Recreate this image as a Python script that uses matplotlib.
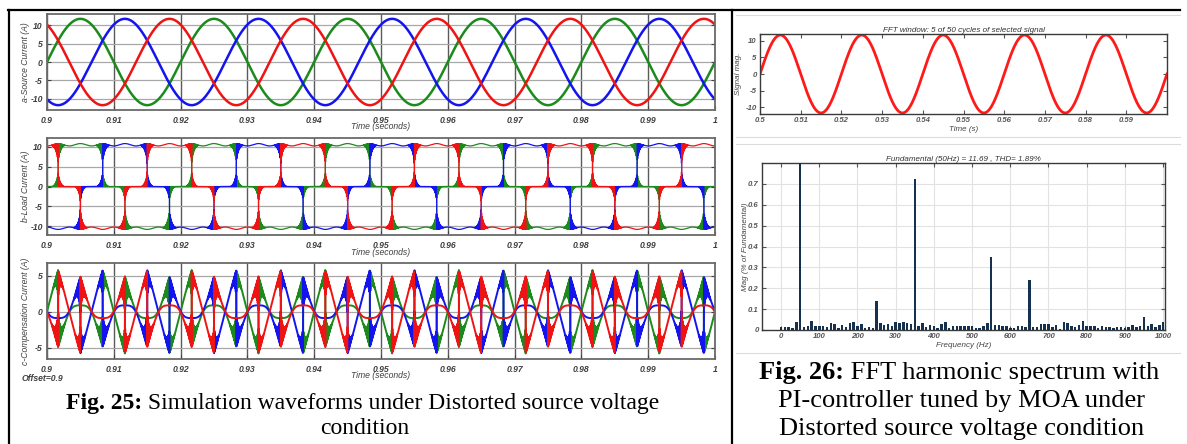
import numpy as np
import matplotlib.pyplot as plt
from matplotlib.transforms import Bbox, TransformedBbox

plt.rcParams['font.family'] = ['Liberation Sans', 'DejaVu Sans']
plt.rcParams['font.weight'] = 'bold'
plt.rcParams['font.style'] = 'italic'
plt.rcParams['axes.unicode_minus'] = False

# ---- system data ----
F0 = 50.0                 # supply frequency (Hz)
T0 = 0.9                  # scope offset (s)
AMP_SRC = 11.69           # source current peak (A)
I_LOAD = 10.5             # rectifier dc-side current (A)
phase_deg = [0, -120, 120]
phase_col = ['#1c8a1c', '#1414ee', '#ee1414']

time_ticks = [0.9, 0.91, 0.92, 0.93, 0.94, 0.95, 0.96, 0.97, 0.98, 0.99, 1.0]
time_labels = ['0.9', '0.91', '0.92', '0.93', '0.94', '0.95', '0.96', '0.97', '0.98', '0.99', '1']

# FFT window (5 cycles starting at 0.5 s)
fft_t0, fft_t1 = 0.5, 0.6
fft_ticks = [0.5, 0.51, 0.52, 0.53, 0.54, 0.55, 0.56, 0.57, 0.58, 0.59]

# harmonic spectrum, % of fundamental, 10 Hz bins 0..1000 Hz
freqs = np.arange(0, 1001, 10)
mags = [0.013, 0.013, 0.013, 0.008, 0.04, 100, 0.013, 0.02, 0.045, 0.02,
        0.02, 0.02, 0.012, 0.035, 0.03, 0.01, 0.025, 0.015, 0.035, 0.04,
        0.02, 0.03, 0.01, 0.015, 0.01, 0.14, 0.035, 0.025, 0.03, 0.02,
        0.04, 0.035, 0.04, 0.035, 0.03, 0.725, 0.02, 0.035, 0.015, 0.025,
        0.02, 0.01, 0.03, 0.04, 0.01, 0.02, 0.02, 0.02, 0.02, 0.02,
        0.02, 0.01, 0.008, 0.02, 0.035, 0.35, 0.025, 0.025, 0.02, 0.02,
        0.01, 0.008, 0.02, 0.02, 0.015, 0.24, 0.015, 0.015, 0.03, 0.03,
        0.03, 0.015, 0.025, 0.005, 0.04, 0.035, 0.02, 0.015, 0.025, 0.045,
        0.02, 0.02, 0.02, 0.01, 0.02, 0.015, 0.012, 0.01, 0.015, 0.012,
        0.01, 0.015, 0.025, 0.015, 0.02, 0.06, 0.02, 0.03, 0.015, 0.025,
        0.04]
fund_label = 'Fundamental (50Hz) = 11.69 , THD= 1.89%'

W, H = 1187, 444
fig = plt.figure(figsize=(W / 100, H / 100), dpi=100)

# background layer in pixel units for frame and captions
bg = fig.add_axes([0, 0, 1, 1])
bg.set_xlim(0, W)
bg.set_ylim(H, 0)
bg.axis('off')
bg.plot([8, 1180], [10, 10], color='black', lw=1.6)
bg.plot([8.5, 8.5], [10, H], color='black', lw=1.6)
bg.plot([732, 732], [10, H], color='black', lw=1.6)
for yy in [15, 137, 144, 353]:
    bg.plot([736, 1180], [yy, yy], color='#dcdcdc', lw=0.8)


def px_axes(x0, y0, x1, y1):
    return fig.add_axes([x0 / W, 1 - y1 / H, (x1 - x0) / W, (y1 - y0) / H])


def corner(d, rx, ry):
    # depth of a rounded corner at distance d (deg) from a step
    u = np.clip(1 - d / rx, 0, 1)
    return ry * (1 - np.sqrt(1 - u ** 2))


t = np.linspace(T0, T0 + 0.1, 100001)


def source_current(ph):
    return AMP_SRC * np.sin(np.radians(360 * F0 * (t - T0) + ph))


def load_current(ph):
    psi = (360 * F0 * (t - T0) + ph - 30) % 360
    rip = 0.3 * np.cos(np.radians(6 * psi))
    rx, ry, rxz, ryz = 22, 6.0, 18, 4.5
    S = np.zeros_like(t)
    off = np.zeros_like(t)
    pos = psi < 120
    S[pos] = I_LOAD + rip[pos]
    off[pos] = -(corner(psi[pos], rx, ry) + corner(120 - psi[pos], rx, ry))
    z1 = (psi >= 120) & (psi < 180)
    off[z1] = corner(psi[z1] - 120, rxz, ryz) - corner(180 - psi[z1], rxz, ryz)
    neg = (psi >= 180) & (psi < 300)
    S[neg] = -I_LOAD - rip[neg]
    off[neg] = corner(psi[neg] - 180, rx, ry) + corner(300 - psi[neg], rx, ry)
    z2 = psi >= 300
    off[z2] = -corner(psi[z2] - 300, rxz, ryz) + corner(360 - psi[z2], rxz, ryz)
    # switching ripple fills the band between the step and the rounded path
    return S + off * 0.5 * (1 + np.sin(2 * np.pi * 12500 * (t - T0)))


def scope_style(ax, ylim, yticks, ylabel):
    ax.set_xlim(0.9, 1.0)
    ax.set_ylim(*ylim)
    ax.set_xticks(time_ticks)
    ax.set_xticklabels(time_labels)
    ax.set_yticks(yticks)
    ax.set_yticklabels([str(v) for v in yticks])
    ax.grid(axis='x', color='#5a5a5a', lw=1.0)
    ax.grid(axis='y', color='#a8a8a8', lw=0.9)
    ax.set_axisbelow(True)
    ax.tick_params(direction='in', length=3, right=True, labelsize=6.2,
                   colors='#404040', pad=4)
    ax.tick_params(axis='y', pad=3)
    for s in ax.spines.values():
        s.set_color('#6a6a6a')
        s.set_linewidth(1.3)
    ax.set_xlabel('Time (seconds)', fontsize=6.2, color='#404040')
    ax.xaxis.set_label_coords(0.5, -0.13)
    ax.set_ylabel(ylabel, fontsize=6.2, color='#404040')
    ax.yaxis.set_label_coords(-0.025, 0.5)


# a) source currents
ax_a = px_axes(47, 14, 715, 110)
for ph, c in zip(phase_deg, phase_col):
    ax_a.plot(t, source_current(ph), color=c, lw=1.8)
scope_style(ax_a, (-13, 13), [10, 5, 0, -5, -10], 'a-Source Current (A)')

# b) load currents
ax_b = px_axes(47, 138, 715, 235)
load = []
for ph, c in zip(phase_deg, phase_col):
    il = load_current(ph)
    load.append(il)
    ax_b.plot(t, il, color=c, lw=0.9)
scope_style(ax_b, (-12.2, 12.2), [10, 5, 0, -5, -10], 'b-Load Current (A)')

# c) compensation currents = source - load
ax_c = px_axes(47, 263, 715, 359)
for ph, c, il in zip(phase_deg, phase_col, load):
    ax_c.plot(t, source_current(ph) - il, color=c, lw=1.4)
scope_style(ax_c, (-6.6, 6.8), [5, 0, -5], 'c-Compensation Current (A)')
ax_c.yaxis.label.set_clip_box(TransformedBbox(Bbox.from_extents(0, 0, 1, (H - 258) / H),
                                              fig.transFigure))
ax_c.yaxis.label.set_clip_on(True)
bg.text(22, 378, 'Offset=0.9', fontsize=6.2, color='#404040', va='center')

# FFT window signal
ax_r1 = px_axes(760, 34, 1167, 114)
tf = np.linspace(fft_t0, fft_t1, 3001)
ax_r1.plot(tf, AMP_SRC * np.sin(2 * np.pi * F0 * (tf - fft_t0)), color='#ff1a1a', lw=2.0)
ax_r1.set_xlim(fft_t0, fft_t1)
ax_r1.set_ylim(-12, 12)
ax_r1.set_xticks(fft_ticks)
ax_r1.set_xticklabels([f'{v:g}' for v in fft_ticks])
ax_r1.set_yticks([10, 5, 0, -5, -10])
ax_r1.tick_params(direction='in', length=3, top=True, right=True, labelsize=5.6,
                  colors='#555555', pad=2.5)
ax_r1.set_title('FFT window: 5 of 50 cycles of selected signal', fontsize=5.8,
                color='#333333', pad=1.5)
ax_r1.set_xlabel('Time (s)', fontsize=5.8, color='#444444', labelpad=1)
ax_r1.set_ylabel('Signal mag.', fontsize=5.8, color='#444444')
ax_r1.yaxis.set_label_coords(-0.045, 0.5)
for s in ax_r1.spines.values():
    s.set_color('#3a3a3a')
    s.set_linewidth(1.0)

# harmonic spectrum
ax_r2 = px_axes(762, 163, 1165, 330)
ax_r2.bar(freqs, mags, width=6.5, color='#14324f', zorder=3)
ax_r2.set_xlim(-50, 1005)
ax_r2.set_ylim(0, 0.8)
ax_r2.set_xticks(np.arange(0, 1001, 100))
ax_r2.set_yticks([0, 0.1, 0.2, 0.3, 0.4, 0.5, 0.6, 0.7])
ax_r2.set_yticklabels(['0', '0.1', '0.2', '0.3', '0.4', '0.5', '0.6', '0.7'])
ax_r2.grid(color='#e2e2e2', lw=0.8)
ax_r2.tick_params(direction='in', length=3, top=True, right=True, labelsize=5.6,
                  colors='#555555', pad=2.5)
ax_r2.set_title(fund_label, fontsize=5.8, color='#333333', pad=1.5)
ax_r2.set_xlabel('Frequency (Hz)', fontsize=5.8, color='#444444', labelpad=1)
ax_r2.set_ylabel('Mag (% of Fundamental)', fontsize=5.8, color='#444444')
ax_r2.yaxis.set_label_coords(-0.032, 0.5)
for s in ax_r2.spines.values():
    s.set_color('#3a3a3a')
    s.set_linewidth(1.0)

# captions
cap_l = dict(family='Liberation Serif', style='normal', fontsize=17, color='black')
b25 = bg.text(66, 403, 'Fig. 25:', fontweight='bold', va='center', ha='left', **cap_l)
bg.annotate(' Simulation waveforms under Distorted source voltage', xy=(1, 0),
            xycoords=b25, va='bottom', ha='left', fontweight='normal', **cap_l)
bg.text(365, 428, 'condition', ha='center', va='center', fontweight='normal', **cap_l)

cap_r = dict(family='Liberation Serif', style='normal', fontsize=19, color='black')
b26 = bg.text(759, 372, 'Fig. 26:', fontweight='bold', va='center', ha='left', **cap_r)
bg.annotate(' FFT harmonic spectrum with', xy=(1, 0), xycoords=b26, va='bottom',
            ha='left', fontweight='normal', **cap_r)
bg.text(962, 401, 'PI-controller tuned by MOA under', ha='center', va='center',
        fontweight='normal', **cap_r)
bg.text(962, 429, 'Distorted source voltage condition', ha='center', va='center',
        fontweight='normal', **cap_r)

fig.savefig('out.png', dpi=100)
